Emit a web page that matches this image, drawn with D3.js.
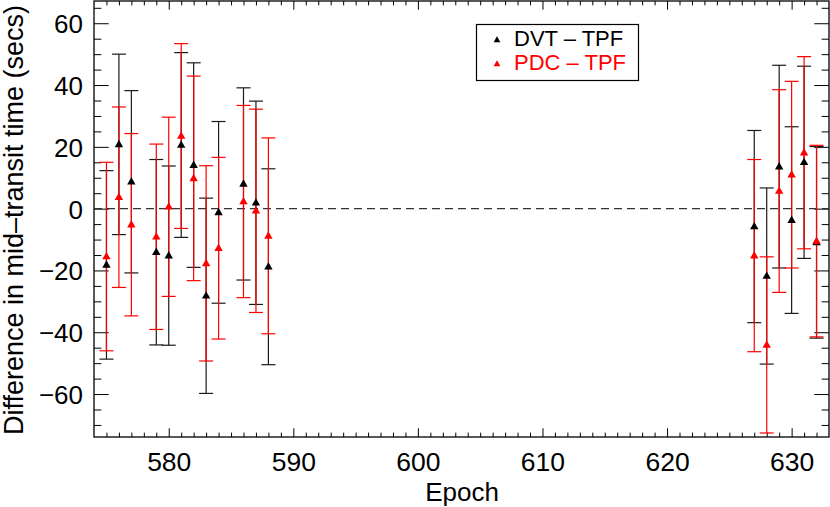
<!DOCTYPE html>
<html>
<head>
<meta charset="utf-8">
<script src="https://cdn.jsdelivr.net/npm/d3@7"></script>
<style>
  body { margin: 0; background: #fff; }
  svg text { font-family: "Liberation Sans", Arial, Helvetica, sans-serif; }
</style>
</head>
<body>
<svg id="chart" width="830" height="507"></svg>
<script>
// values (seconds)
const epochs = [575, 576, 577, 579, 580, 581, 582, 583, 584, 586, 587, 588, 627, 628, 629, 630, 631, 632]
const dvt = [-18.2, 20.8, 8.7, -14.1, -15.2, 20.6, 14.1, -28.2, -1.2, 8.0, 1.9, -18.8, -5.8, -21.8, 13.6, -3.7, 15.0, -10.9]
const pdc = [-15.5, 3.7, -5.2, -9.1, 0.6, 23.5, 9.8, -17.7, -12.8, 2.3, -0.7, -8.8, -15.2, -44.1, 5.7, 11.0, 18.1, -10.5]
const err = [30.5, 29.2, 29.5, 30.0, 29.0, 29.9, 33.1, 31.6, 29.4, 31.1, 32.9, 31.7, 31.1, 28.5, 32.8, 30.2, 31.1, 31.0]

const xTicks = [580, 590, 600, 610, 620, 630]
const yTicks = [-60, -40, -20, 0, 20, 40, 60]
const seriesNames = ['DVT \u2013 TPF', 'PDC \u2013 TPF']

const pLeft = 94, pRight = 829, pTop = 1, pBottom = 437
const w = pRight - pLeft, h = pBottom - pTop

let svg = d3.select('#chart')

let x = d3.scaleLinear().domain([574, 633]).range([pLeft, pRight])
let y = d3.scaleLinear().domain([-73.9, 67.2]).range([pBottom, pTop])

const font = '"Liberation Sans", Arial, Helvetica, sans-serif'
const xMajor = 0.02 * h, yMajor = 0.02 * w

// minor ticks
let xMinor = d3.range(575, 633, 1).filter(d => d % 10 !== 0)
let yMinor = d3.range(-70, 66, 5).filter(d => d % 20 !== 0)

function styleAxis(g) {
  g.select('.domain').remove()
  g.selectAll('line').attr('stroke', '#000').attr('stroke-width', 1)
  g.attr('font-family', font)
}

svg.append('g').attr('transform', `translate(0,${pBottom})`)
  .call(d3.axisBottom(x).tickValues(xMinor).tickSize(-xMajor / 2).tickFormat(''))
  .call(styleAxis)
svg.append('g').attr('transform', `translate(0,${pTop})`)
  .call(d3.axisTop(x).tickValues(xMinor).tickSize(-xMajor / 2).tickFormat(''))
  .call(styleAxis)
svg.append('g').attr('transform', `translate(0,${pTop})`)
  .call(d3.axisTop(x).tickValues(xTicks).tickSize(-xMajor).tickFormat(''))
  .call(styleAxis)

let xAxis = svg.append('g').attr('transform', `translate(0,${pBottom})`)
  .call(d3.axisBottom(x).tickValues(xTicks).tickSize(-xMajor).tickFormat(d3.format('d')))
  .call(styleAxis)
xAxis.selectAll('text')
  .attr('y', 34).attr('dy', null)
  .attr('font-size', 26.5).attr('fill', '#000')

svg.append('g').attr('transform', `translate(${pLeft},0)`)
  .call(d3.axisLeft(y).tickValues(yMinor).tickSize(-yMajor / 2).tickFormat(''))
  .call(styleAxis)
svg.append('g').attr('transform', `translate(${pRight},0)`)
  .call(d3.axisRight(y).tickValues(yMinor).tickSize(-yMajor / 2).tickFormat(''))
  .call(styleAxis)
svg.append('g').attr('transform', `translate(${pRight},0)`)
  .call(d3.axisRight(y).tickValues(yTicks).tickSize(-yMajor).tickFormat(''))
  .call(styleAxis)

let yAxis = svg.append('g').attr('transform', `translate(${pLeft},0)`)
  .call(d3.axisLeft(y).tickValues(yTicks).tickSize(-yMajor).tickFormat(d => d < 0 ? '\u2212' + (-d) : d))
  .call(styleAxis)
yAxis.selectAll('text')
  .attr('x', -11).attr('dy', '0.36em')
  .attr('font-size', 26).attr('fill', '#000')

// frame
svg.append('rect')
  .attr('x', pLeft).attr('y', pTop)
  .attr('width', w).attr('height', h)
  .attr('fill', 'none').attr('stroke', '#000').attr('stroke-width', 1.3)

// zero line
svg.append('line')
  .attr('x1', pLeft).attr('x2', pRight)
  .attr('y1', y(0)).attr('y2', y(0))
  .attr('stroke', '#333').attr('stroke-width', 1.2)
  .attr('stroke-dasharray', '8,5')

// axis titles
svg.append('text')
  .attr('x', 462).attr('y', 501)
  .attr('text-anchor', 'middle')
  .attr('font-size', 26)
  .text('Epoch')

svg.append('text')
  .attr('transform', 'translate(23,220) rotate(-90)')
  .attr('text-anchor', 'middle')
  .attr('font-size', 27)
  .text('Difference in mid\u2013transit time (secs)')

const tri = 'M0,-4.6L4.2,2.8L-4.2,2.8Z'
const cap = 7

function errorBars(vals, color) {
  let g = svg.append('g').attr('stroke', color).attr('stroke-width', 1.2).attr('fill', 'none')
  epochs.forEach((e, i) => {
    let cx = x(e), hi = y(vals[i] + err[i]), lo = y(vals[i] - err[i])
    g.append('line').attr('x1', cx).attr('x2', cx).attr('y1', hi).attr('y2', lo)
    g.append('line').attr('x1', cx - cap).attr('x2', cx + cap).attr('y1', hi).attr('y2', hi)
    g.append('line').attr('x1', cx - cap).attr('x2', cx + cap).attr('y1', lo).attr('y2', lo)
  })
}

function points(vals, color) {
  svg.append('g').selectAll('path')
    .data(vals)
    .join('path')
    .attr('d', tri)
    .attr('fill', color)
    .attr('transform', (d, i) => `translate(${x(epochs[i])},${y(d)})`)
}

errorBars(dvt, '#1a1a1a')
errorBars(pdc, '#ff0000')
points(dvt, '#000')
points(pdc, '#ff0000')

// legend
let legend = svg.append('g')
legend.append('rect')
  .attr('x', 476.5).attr('y', 24.5)
  .attr('width', 162).attr('height', 56)
  .attr('fill', '#fff').attr('stroke', '#000').attr('stroke-width', 1.2)

let legendColors = ['#000', '#ff0000']
seriesNames.forEach((name, i) => {
  let by = 46 + i * 24
  legend.append('path')
    .attr('d', 'M0,-3.8L3.4,2.3L-3.4,2.3Z')
    .attr('fill', legendColors[i])
    .attr('transform', `translate(497,${by - 6})`)
  legend.append('text')
    .attr('x', 514).attr('y', by)
    .attr('font-size', 22)
    .attr('fill', legendColors[i])
    .text(name)
})
</script>
</body>
</html>
